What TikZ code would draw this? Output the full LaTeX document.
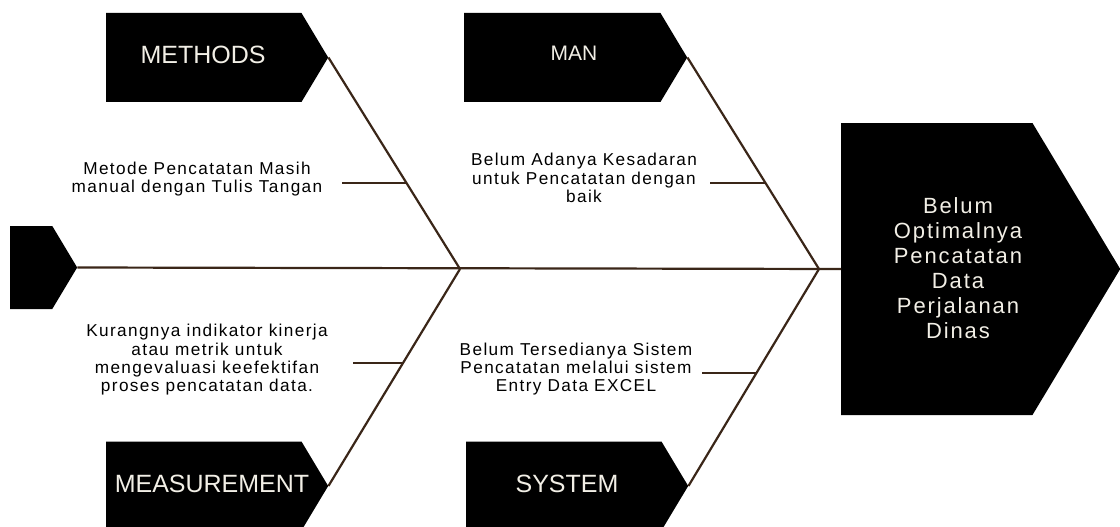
\documentclass[tikz,border=0pt]{standalone}
\usepackage{fontspec}
\setmainfont{Liberation Sans}
\newfontfamily\causefont[LetterSpace=8]{Liberation Sans}
\newfontfamily\effectfont[LetterSpace=8.5]{Liberation Sans}
\usetikzlibrary{shapes.symbols}
\definecolor{bonebrown}{HTML}{3A2618}
\definecolor{boxtext}{HTML}{F2EFE6}
\tikzset{
  bone/.style={signal, signal to=east, signal pointer angle=118, fill=black, inner sep=0pt, anchor=west},
  spine/.style={draw=bonebrown, line width=2.2pt},
  cause/.style={align=center, font=\causefont\fontsize{17.2}{18.3}\selectfont},
  boxlabel/.style={text=boxtext, font=\fontsize{25}{30}\selectfont},
}
\begin{document}
\begin{tikzpicture}[x=1pt,y=-1pt]
\useasboundingbox (0,0) rectangle (1120,527);
% category boxes
\node[bone, minimum width=222pt, minimum height=89pt] (methods) at (106,57.5) {};
\node[bone, minimum width=223pt, minimum height=89pt] (man) at (464,57.5) {};
\node[bone, minimum width=222pt, minimum height=89pt] (measure) at (106,486) {};
\node[bone, minimum width=222pt, minimum height=89pt] (system) at (466,486) {};
\node[bone, minimum width=67pt, minimum height=83pt] (tail) at (10,267.5) {};
\node[bone, minimum width=279pt, minimum height=292pt] (effect) at (841,269) {};
\node[boxlabel] (methodstxt) at (203,55) {METHODS};
\node[boxlabel, font=\fontsize{21}{25}\selectfont] (mantxt) at (574,53) {MAN};
\node[boxlabel] (measuretxt) at (212,484) {MEASUREMENT};
\node[boxlabel] (systemtxt) at (567,484) {SYSTEM};
\node[text=boxtext, align=center, font=\effectfont\fontsize{22}{25}\selectfont] (effecttxt) at (958,268)
  {Belum\\Optimalnya\\Pencatatan\\Data\\Perjalanan\\Dinas};
% bones
\coordinate (jl) at (460,269);
\coordinate (jr) at (819,269);
\draw[spine] (tail.east) -- (effect.west);
\draw[spine] (methods.east) -- (jl);
\draw[spine] (measure.east) -- (jl);
\draw[spine] (man.east) -- (jr);
\draw[spine] (system.east) -- (jr);
% causes
\node[cause] (metode) at (197,179) {Metode Pencatatan Masih\\manual dengan Tulis Tangan};
\node[cause] (kurang) at (207,360) {Kurangnya indikator kinerja\\atau metrik untuk\\mengevaluasi keefektifan\\proses pencatatan data.};
\node[cause] (adanya) at (584,178) {Belum Adanya Kesadaran\\untuk Pencatatan dengan\\baik};
\node[cause] (sedia) at (576,369) {Belum Tersedianya Sistem\\Pencatatan melalui sistem\\Entry Data EXCEL};
\coordinate (c1a) at (342,183); \coordinate (c1b) at (406,183);
\coordinate (c2a) at (353,363); \coordinate (c2b) at (403,363);
\coordinate (c3a) at (710,183); \coordinate (c3b) at (765,183);
\coordinate (c4a) at (702,373); \coordinate (c4b) at (756,373);
\draw[spine] (c1a) -- (c1b);
\draw[spine] (c2a) -- (c2b);
\draw[spine] (c3a) -- (c3b);
\draw[spine] (c4a) -- (c4b);
\end{tikzpicture}
\end{document}
